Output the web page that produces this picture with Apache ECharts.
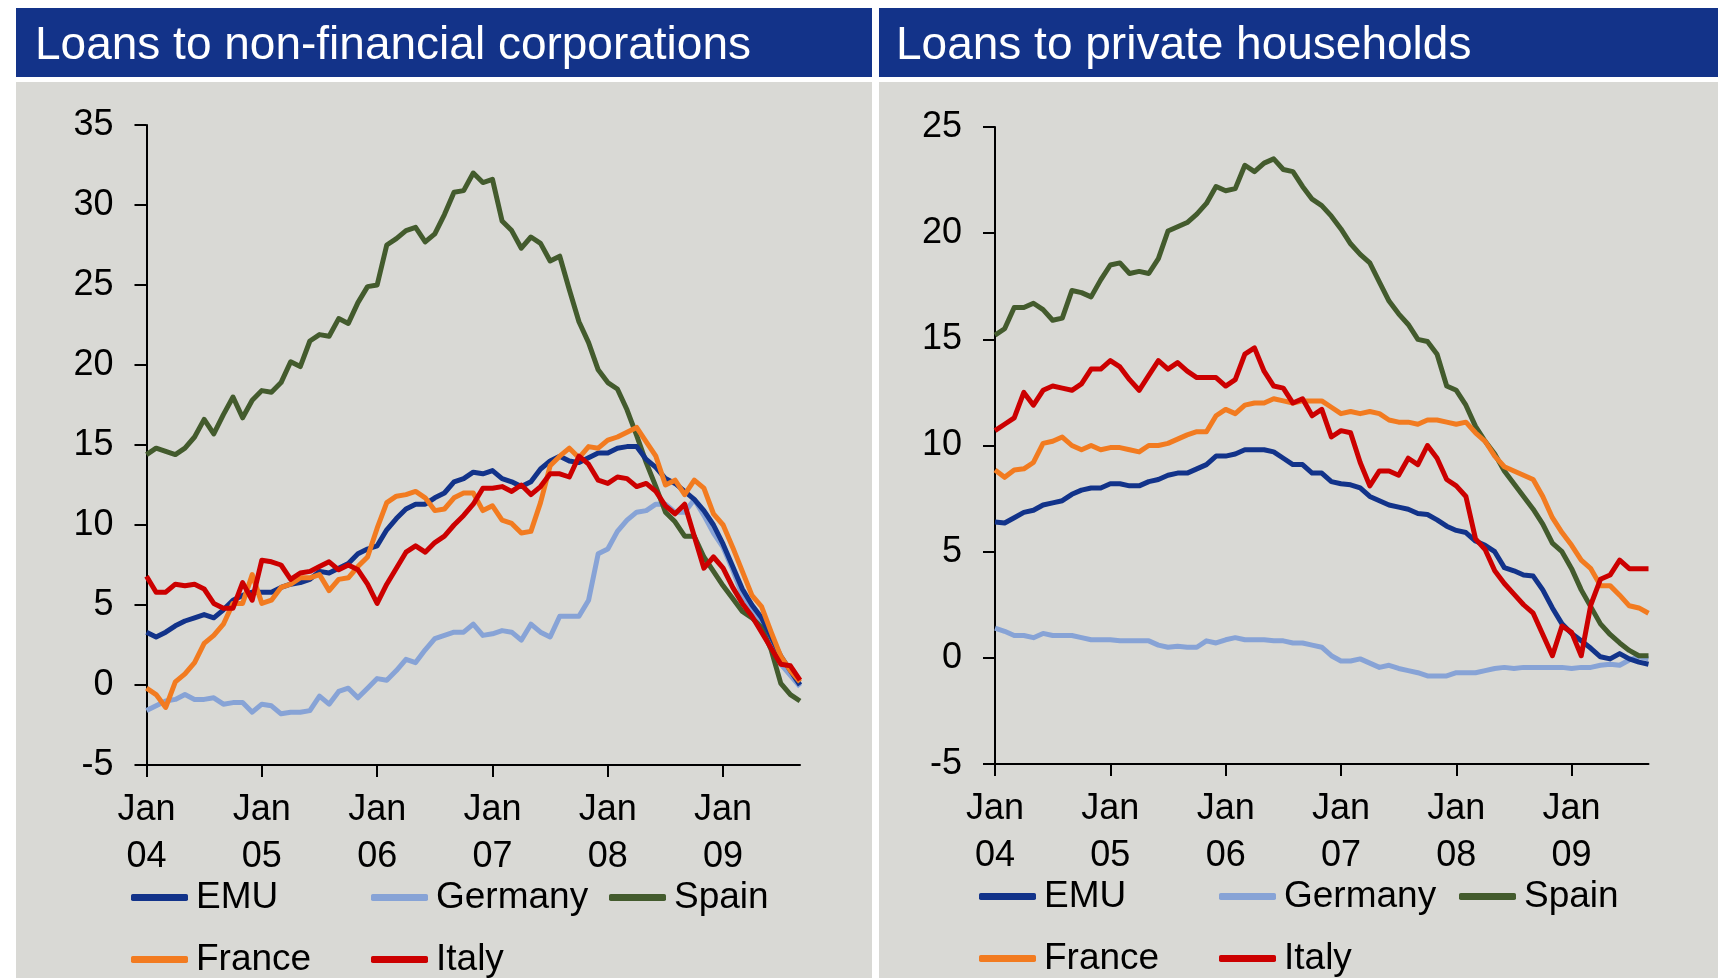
<!DOCTYPE html>
<html>
<head>
<meta charset="utf-8">
<script src="https://cdn.jsdelivr.net/npm/echarts@6/dist/echarts.min.js"></script>
<style>
  html, body { margin: 0; padding: 0; background: #ffffff; }
  #chart { width: 1718px; height: 978px; }
</style>
</head>
<body>
<div id="chart"></div>
<script>
// monthly, Jan 2004 .. Sep 2009
const months = [];
for (let y = 2004; y <= 2009; y++) {
  for (let m = 1; m <= 12; m++) {
    if (y === 2009 && m > 9) break;
    months.push(y + '-' + (m < 10 ? '0' + m : m));
  }
}

// Loans to non-financial corporations (% y/y)
const emuNfc = [3.3, 3.0, 3.3, 3.7, 4.0, 4.2, 4.4, 4.2, 4.7, 5.3, 5.6, 5.8, 5.8, 5.8, 6.1, 6.3, 6.4, 6.6, 7.1, 7.0, 7.3, 7.6, 8.2, 8.5, 8.7, 9.7, 10.4, 11.0, 11.3, 11.3, 11.7, 12.0, 12.7, 12.9, 13.3, 13.2, 13.4, 12.9, 12.7, 12.4, 12.7, 13.5, 14.0, 14.3, 14.0, 13.9, 14.2, 14.5, 14.5, 14.8, 14.9, 14.9, 14.1, 13.6, 12.9, 12.6, 12.1, 11.6, 10.9, 10.0, 8.8, 7.4, 6.0, 5.0, 4.2, 3.0, 1.8, 0.9, 0.0];
const germanyNfc = [-1.6, -1.3, -1.0, -0.9, -0.6, -0.9, -0.9, -0.8, -1.2, -1.1, -1.1, -1.7, -1.2, -1.3, -1.8, -1.7, -1.7, -1.6, -0.7, -1.2, -0.4, -0.2, -0.8, -0.2, 0.4, 0.3, 0.9, 1.6, 1.4, 2.2, 2.9, 3.1, 3.3, 3.3, 3.8, 3.1, 3.2, 3.4, 3.3, 2.8, 3.8, 3.3, 3.0, 4.3, 4.3, 4.3, 5.3, 8.2, 8.5, 9.6, 10.3, 10.8, 10.9, 11.3, 11.3, 10.8, 10.8, 11.6, 10.6, 9.5, 8.6, 7.2, 5.6, 4.7, 3.7, 2.5, 1.3, 0.6, -0.1];
const spainNfc = [14.4, 14.8, 14.6, 14.4, 14.8, 15.5, 16.6, 15.7, 16.9, 18.0, 16.7, 17.8, 18.4, 18.3, 18.9, 20.2, 19.9, 21.5, 21.9, 21.8, 22.9, 22.6, 23.9, 24.9, 25.0, 27.5, 27.9, 28.4, 28.6, 27.7, 28.2, 29.4, 30.8, 30.9, 32.0, 31.4, 31.6, 29.0, 28.4, 27.3, 28.0, 27.6, 26.5, 26.8, 24.7, 22.7, 21.4, 19.7, 18.9, 18.5, 17.2, 15.6, 13.9, 12.4, 10.8, 10.2, 9.3, 9.3, 8.0, 7.1, 6.2, 5.4, 4.6, 4.2, 3.6, 2.2, 0.1, -0.6, -1.0];
const franceNfc = [-0.2, -0.6, -1.4, 0.2, 0.7, 1.4, 2.6, 3.1, 3.8, 5.1, 5.1, 6.9, 5.1, 5.3, 6.1, 6.3, 6.7, 6.7, 6.9, 5.9, 6.6, 6.7, 7.4, 8.0, 9.8, 11.4, 11.8, 11.9, 12.1, 11.7, 10.9, 11.0, 11.7, 12.0, 12.0, 10.9, 11.2, 10.3, 10.1, 9.5, 9.6, 11.4, 13.7, 14.3, 14.8, 14.2, 14.9, 14.8, 15.3, 15.5, 15.8, 16.1, 15.2, 14.3, 12.5, 12.8, 11.9, 12.8, 12.3, 10.7, 10.0, 8.6, 7.1, 5.6, 4.9, 3.3, 1.8, 0.9, 0.2];
const italyNfc = [6.8, 5.8, 5.8, 6.3, 6.2, 6.3, 6.0, 5.1, 4.8, 4.8, 6.4, 5.3, 7.8, 7.7, 7.5, 6.6, 7.0, 7.1, 7.4, 7.7, 7.2, 7.5, 7.2, 6.3, 5.1, 6.3, 7.3, 8.3, 8.7, 8.3, 8.9, 9.3, 10.0, 10.6, 11.3, 12.3, 12.3, 12.4, 12.1, 12.5, 11.9, 12.4, 13.2, 13.2, 13.0, 14.3, 13.8, 12.8, 12.6, 13.0, 12.9, 12.4, 12.6, 12.1, 11.2, 10.7, 11.3, 9.3, 7.3, 8.0, 7.3, 6.1, 5.1, 4.3, 3.3, 2.3, 1.3, 1.2, 0.3];

// Loans to private households (% y/y)
const emuHh = [6.4, 6.35, 6.6, 6.85, 6.95, 7.2, 7.3, 7.4, 7.7, 7.9, 8.0, 8.0, 8.2, 8.2, 8.1, 8.1, 8.3, 8.4, 8.6, 8.7, 8.7, 8.9, 9.1, 9.5, 9.5, 9.6, 9.8, 9.8, 9.8, 9.7, 9.4, 9.1, 9.1, 8.7, 8.7, 8.3, 8.2, 8.15, 8.0, 7.6, 7.4, 7.2, 7.1, 7.0, 6.8, 6.75, 6.5, 6.2, 6.0, 5.9, 5.5, 5.3, 5.0, 4.25, 4.1, 3.9, 3.85, 3.2, 2.35, 1.6, 1.15, 0.8, 0.45, 0.05, -0.05, 0.2, -0.05, -0.2, -0.3];
const germanyHh = [1.4, 1.25, 1.05, 1.05, 0.95, 1.15, 1.05, 1.05, 1.05, 0.95, 0.85, 0.85, 0.85, 0.8, 0.8, 0.8, 0.8, 0.6, 0.5, 0.55, 0.5, 0.5, 0.8, 0.7, 0.85, 0.95, 0.85, 0.85, 0.85, 0.8, 0.8, 0.7, 0.7, 0.6, 0.5, 0.1, -0.15, -0.15, -0.05, -0.25, -0.45, -0.35, -0.5, -0.6, -0.7, -0.85, -0.85, -0.85, -0.7, -0.7, -0.7, -0.6, -0.5, -0.45, -0.5, -0.45, -0.45, -0.45, -0.45, -0.45, -0.5, -0.45, -0.45, -0.35, -0.3, -0.35, -0.1, 0.05, -0.05];
const spainHh = [15.2, 15.5, 16.5, 16.5, 16.7, 16.4, 15.9, 16.0, 17.3, 17.2, 17.0, 17.8, 18.5, 18.6, 18.1, 18.2, 18.1, 18.8, 20.1, 20.3, 20.5, 20.9, 21.4, 22.2, 22.0, 22.1, 23.2, 22.9, 23.3, 23.5, 23.0, 22.9, 22.2, 21.6, 21.3, 20.8, 20.2, 19.5, 19.0, 18.6, 17.7, 16.8, 16.2, 15.7, 15.0, 14.9, 14.3, 12.8, 12.6, 11.9, 10.9, 10.2, 9.6, 8.8, 8.2, 7.6, 7.0, 6.3, 5.4, 5.0, 4.2, 3.2, 2.4, 1.6, 1.1, 0.7, 0.35, 0.1, 0.1];
const franceHh = [8.85, 8.5, 8.85, 8.9, 9.2, 10.1, 10.2, 10.4, 10.0, 9.8, 10.0, 9.8, 9.9, 9.9, 9.8, 9.7, 10.0, 10.0, 10.1, 10.3, 10.5, 10.65, 10.65, 11.4, 11.7, 11.5, 11.9, 12.0, 12.0, 12.2, 12.1, 12.0, 12.1, 12.1, 12.1, 11.8, 11.5, 11.6, 11.5, 11.6, 11.5, 11.2, 11.1, 11.1, 11.0, 11.2, 11.2, 11.1, 11.0, 11.1, 10.6, 10.2, 9.5, 9.0, 8.8, 8.6, 8.4, 7.6, 6.6, 5.9, 5.3, 4.6, 4.2, 3.4, 3.4, 2.95, 2.45, 2.35, 2.1];
const italyHh = [10.7, 11.0, 11.3, 12.5, 11.9, 12.6, 12.8, 12.7, 12.6, 12.9, 13.6, 13.6, 14.0, 13.7, 13.1, 12.6, 13.3, 14.0, 13.6, 13.9, 13.5, 13.2, 13.2, 13.2, 12.8, 13.1, 14.3, 14.6, 13.5, 12.8, 12.7, 12.0, 12.2, 11.4, 11.7, 10.4, 10.7, 10.6, 9.2, 8.1, 8.8, 8.8, 8.6, 9.4, 9.1, 10.0, 9.4, 8.4, 8.1, 7.6, 5.6, 5.1, 4.1, 3.5, 3.0, 2.5, 2.1, 1.1, 0.1, 1.5, 1.2, 0.1, 2.5, 3.7, 3.9, 4.6, 4.2, 4.2, 4.2];

const panelTitles = ['Loans to non-financial corporations', 'Loans to private households'];
const colors = { EMU: '#12338a', Germany: '#87a3d6', Spain: '#435b2d', France: '#f27b20', Italy: '#cc0000' };

const FONT = '"Liberation Sans", Arial, sans-serif';
const chart = echarts.init(document.getElementById('chart'));

const janOnly = (idx) => idx % 12 === 0;

function xAxisFor(gridIndex) {
  return {
    type: 'category', gridIndex, data: months, boundaryGap: false,
    axisLine: { onZero: false, lineStyle: { color: '#000', width: 2 } },
    axisTick: { interval: janOnly, length: 12, lineStyle: { color: '#000', width: 2 } },
    axisLabel: {
      interval: janOnly, margin: 22, color: '#000', fontFamily: FONT, fontSize: 36, lineHeight: 47,
      formatter: (v) => 'Jan\n' + v.slice(2, 4)
    },
    splitLine: { show: false }
  };
}
function yAxisFor(gridIndex, max) {
  return {
    type: 'value', gridIndex, min: -5, max, interval: 5,
    axisLine: { show: true, lineStyle: { color: '#000', width: 2 } },
    axisTick: { show: true, length: 12, lineStyle: { color: '#000', width: 2 } },
    axisLabel: { margin: 33, color: '#000', fontFamily: FONT, fontSize: 36 },
    splitLine: { show: false }
  };
}

function lineSeries(name, data, idx) {
  return {
    name, type: 'line', data, xAxisIndex: idx, yAxisIndex: idx,
    symbol: 'none', smooth: false,
    lineStyle: { color: colors[name], width: 5, join: 'round' },
    itemStyle: { color: colors[name] }
  };
}

// drawing order: later on top
const drawOrder = [
  ['Germany', germanyNfc, germanyHh],
  ['Spain', spainNfc, spainHh],
  ['EMU', emuNfc, emuHh],
  ['France', franceNfc, franceHh],
  ['Italy', italyNfc, italyHh]
];
const series = [];
drawOrder.forEach(([n, a, b]) => {
  series.push(lineSeries(n, a, 0));
  series.push(lineSeries(n, b, 1));
});

// legend slots: [name, iconLeft, top]
const legendSlots = [
  ['EMU', 131, 879], ['Germany', 371, 879], ['Spain', 609, 879],
  ['France', 131, 941], ['Italy', 371, 941],
  ['EMU', 979, 878], ['Germany', 1219, 878], ['Spain', 1459, 878],
  ['France', 979, 940], ['Italy', 1219, 940]
];
const legends = legendSlots.map(([name, left, top]) => ({
  data: [name], left, top, padding: 0, selectedMode: false,
  icon: 'roundRect', itemWidth: 57, itemHeight: 7, itemGap: 0,
  textStyle: { fontFamily: FONT, fontSize: 37, color: '#000', padding: [0, 0, 0, 3] }
}));

chart.setOption({
  backgroundColor: '#ffffff',
  animation: false,
  graphic: [
    { type: 'rect', z: -10, shape: { x: 16, y: 82, width: 856, height: 896 }, style: { fill: '#d9d9d5' } },
    { type: 'rect', z: -10, shape: { x: 879, y: 82, width: 839, height: 896 }, style: { fill: '#d9d9d5' } },
    { type: 'rect', z: -10, shape: { x: 16, y: 8, width: 856, height: 69 }, style: { fill: '#133389' } },
    { type: 'rect', z: -10, shape: { x: 879, y: 8, width: 839, height: 69 }, style: { fill: '#133389' } }
  ],
  title: [
    { text: panelTitles[0], left: 35, top: 23, padding: 0, textStyle: { color: '#fff', fontFamily: FONT, fontSize: 46, fontWeight: 'normal' } },
    { text: panelTitles[1], left: 896, top: 23, padding: 0, textStyle: { color: '#fff', fontFamily: FONT, fontSize: 46, fontWeight: 'normal' } }
  ],
  grid: [
    { left: 146.5, top: 125, width: 653.5, height: 640 },
    { left: 995, top: 127, width: 653.5, height: 637 }
  ],
  xAxis: [xAxisFor(0), xAxisFor(1)],
  yAxis: [yAxisFor(0, 35), yAxisFor(1, 25)],
  legend: legends,
  series
});
</script>
</body>
</html>
